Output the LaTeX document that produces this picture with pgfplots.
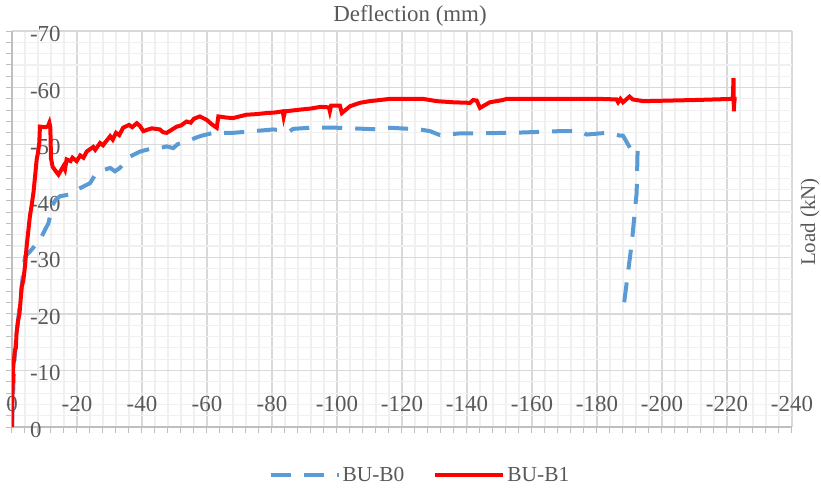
\documentclass[border=0pt]{standalone}
\usepackage{pgfplots}
\pgfplotsset{compat=1.18}
\usepackage{fontspec}
\setmainfont{Liberation Serif}
\definecolor{txtgray}{HTML}{595959}
\definecolor{majgrid}{HTML}{D9D9D9}
\definecolor{mingrid}{HTML}{F0F0F0}
\definecolor{axgray}{HTML}{BFBFBF}
\definecolor{bblue}{HTML}{5B9BD5}
\definecolor{rred}{HTML}{FF0000}
\begin{document}
\begin{tikzpicture}
\path[use as bounding box] (0,0) rectangle (821bp,488bp);
\begin{axis}[
  at={(12bp,61bp)}, anchor=south west,
  width=780bp, height=396bp, scale only axis,
  x dir=reverse, y dir=reverse,
  xmin=-240, xmax=0, ymin=-70, ymax=0,
  xtick={-240,-220,...,0}, ytick={-70,-60,...,0},
  minor x tick num=4, minor y tick num=4,
  grid=both,
  major grid style={draw=majgrid, line width=1.3bp},
  minor grid style={draw=mingrid, line width=1.1bp},
  axis x line=bottom, axis y line=left,
  axis line style={draw=axgray, line width=1.5bp, -},
  tick align=outside,
  major tick length=6bp, minor tick length=6bp,
  tick style={draw=axgray, line width=1bp},
  /pgf/number format/assume math mode=true,
  /pgf/number format/1000 sep={},
  ticklabel style={font=\fontsize{23}{27}\selectfont, text=txtgray},
  xticklabel style={anchor=south, yshift=17.5bp},
  yticklabel style={anchor=west, xshift=20.5bp, yshift=-3bp},
  legend style={at={(0.523,-0.121)}, anchor=center, draw=none, fill=none,
    legend columns=2, font=\fontsize{21.5}{25}\selectfont, text=txtgray,
    /tikz/every even column/.append style={column sep=27bp}},
  legend cell align=left,
  legend image code/.code={\draw[#1] (0bp,0bp) -- (68bp,0bp);},
]
\addplot[bblue, line width=4bp, dash pattern=on 20bp off 13bp] coordinates {
(0,0) (-0.3,-5) (-0.6,-10) (-0.9,-13.0) (-1.5,-17) (-2.3,-21) (-3.2,-26)
(-4.0,-30.1) (-5.5,-31.0) (-7,-32.0) (-8.1,-32.5) (-9,-33.5) (-10.2,-34.9)
(-11.2,-36.0) (-11.7,-37.2) (-12.2,-39.0) (-13.5,-40.2) (-14.8,-40.8)
(-17.8,-41.1) (-20.9,-42.2) (-24,-43.1) (-25.5,-44.5) (-27.1,-45.2)
(-30.2,-45.8) (-31.7,-45.2) (-33.2,-45.8) (-35,-47.0) (-36.3,-47.8)
(-39.4,-48.7) (-43.5,-49.3) (-45.5,-49.3) (-47.6,-49.6) (-49.6,-49.3)
(-51,-50.0) (-53.7,-50.5) (-57.8,-51.4) (-61.9,-52.0) (-68.1,-52.0)
(-74.3,-52.3) (-80.4,-52.6) (-85.5,-52.3) (-86.5,-52.7) (-91.7,-52.9)
(-100,-52.9) (-113,-52.6) (-116.3,-52.9) (-125.5,-52.6) (-128.6,-52.3)
(-131.7,-51.6) (-137.8,-51.9) (-154,-52.0) (-168.6,-52.3) (-174.8,-52.3)
(-176.8,-51.7) (-183,-52.0) (-187.1,-51.5) (-188,-51.5) (-190.2,-49.3)
(-191.1,-49.9) (-192.5,-49.0) (-192.2,-41.4) (-190.7,-32.5) (-188.6,-23.1)
(-188.1,-20.7)
};
\addlegendentry{BU-B0}
\addplot[rred, line width=4bp] coordinates {
(0,0) (-0.1,-5.4) (-0.3,-9) (-0.4,-10.7) (-0.9,-13.6) (-1.2,-14) (-1.4,-16.6)
(-1.9,-18.9) (-2.3,-20) (-3.0,-24.8) (-3.5,-26) (-4.0,-28.4) (-4.5,-31.9)
(-5.5,-37.2) (-6.0,-39) (-6.6,-41.4) (-7.1,-44.3) (-7.6,-47.3) (-8.0,-48.5)
(-8.4,-50.2) (-8.6,-53.1) (-10,-53.0) (-11.0,-53.1) (-11.5,-53.8) (-11.8,-53.0)
(-12.0,-47.5) (-12.5,-46.0) (-13.5,-45.2) (-14.3,-44.6) (-15,-45.3)
(-15.8,-46.1) (-16.3,-45.5) (-16.8,-47.3) (-18,-47.0) (-18.6,-47.6) (-19.9,-47.0)
(-21,-48.0) (-22,-47.6) (-23,-48.7) (-25,-49.5) (-25.6,-49.0) (-27.1,-50.2) (-28,-49.8)
(-30.2,-51.4) (-31,-50.8) (-32,-52.0) (-33,-51.6) (-34.2,-52.9) (-36,-53.4) (-37,-53.0)
(-38.4,-53.7) (-39.4,-53.2) (-40.4,-52.3) (-43,-52.8) (-45.5,-52.6)
(-46.5,-52.1) (-47.6,-52.0) (-50.7,-53.1) (-52,-53.3) (-53.7,-54.0) (-55,-53.8) (-56,-54.5)
(-57.8,-54.9) (-59.9,-54.3) (-61.5,-53.5) (-63.0,-52.9) (-63.5,-54.9)
(-66,-54.7) (-68,-54.6) (-70,-54.9) (-72.2,-55.2) (-75,-55.3) (-78.4,-55.5)
(-81,-55.6) (-83.3,-55.8) (-83.6,-54.8) (-84,-55.8) (-88.6,-56.1) (-92,-56.3)
(-95,-56.6) (-97.5,-56.5) (-97.8,-55.8) (-98.2,-56.8) (-100.9,-56.8) (-101.5,-55.5)
(-104,-56.7) (-107,-57.3) (-110,-57.6) (-116.3,-58.0) (-126.5,-58.0)
(-130.7,-57.6) (-135.8,-57.4) (-140.9,-57.3) (-141.9,-57.8) (-143,-57.7)
(-144,-56.4) (-147,-57.4) (-151,-57.8) (-152.2,-58.0) (-181,-58.0)
(-186,-57.9) (-186.5,-57.4) (-187.2,-58.0) (-188,-57.4) (-189,-57.9)
(-190,-58.4) (-191,-57.9) (-194.3,-57.6) (-210,-57.8) (-221.8,-58.0)
(-222,-61.7) (-222.1,-55.8) (-222.3,-58.0) (-223,-58.0)
};
\addlegendentry{BU-B1}
\end{axis}
\node[text=txtgray, font=\fontsize{23}{27}\selectfont] at (410bp,472bp) {Deflection (mm)};
\node[text=txtgray, font=\fontsize{21}{25}\selectfont, rotate=90] at (810bp,266bp) {Load (kN)};
\end{tikzpicture}
\end{document}
